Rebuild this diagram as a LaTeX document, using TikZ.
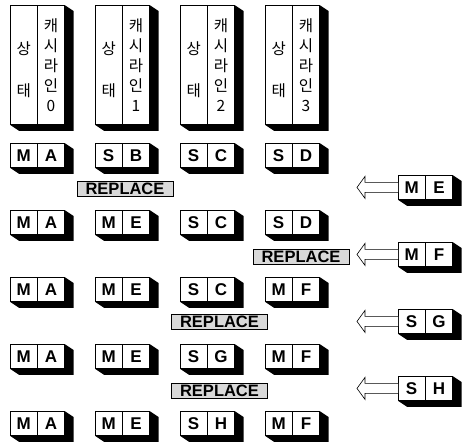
\documentclass[tikz,border=0pt]{standalone}
\usepackage{fontspec}
\setmainfont{Liberation Sans}
\newfontfamily\kor{Noto Sans CJK KR}
% two cells side by side, with a solid extruded edge below right
\newcommand\pairbox[6]{%
  \node[#6] (#1l) at (#2,#3) {#4};
  \node[#6] (#1r) at (#1l.north east) {#5};
  \fill (#1r.north east) -- ([shift={(9,6)}]#1r.north east) -- ([shift={(9,6)}]#1r.south east)
    -- ([shift={(9,6)}]#1l.south west) -- (#1l.south west) -- (#1r.south east) -- cycle;
}
\begin{document}
\begin{tikzpicture}[x=1pt,y=-1pt,line width=0.8pt,
  cell/.style={draw,fill=white,minimum width=26.5pt,minimum height=24pt,inner sep=0pt,
    anchor=north west,font=\fontsize{17}{17}\selectfont\bfseries},
  tall/.style={cell,minimum height=119pt,align=center,font=\kor\fontsize{15.5}{20}\selectfont},
  replace/.style={draw,fill=gray!30,line width=0.6pt,minimum width=96pt,minimum height=15pt,
    inner sep=0pt,font=\fontsize{16.5}{16}\selectfont\bfseries},
  hollow/.style={draw,fill=white,line width=0.6pt}]
\useasboundingbox (0,0) rectangle (463,442);
\foreach \i in {0,...,3}
  \pairbox{h\i}{10+85*\i}{5}{\\[2pt]상\\[22pt]태}{캐\\시\\라\\인\\\i}{tall};
\foreach \a/\b/\c/\d/\e/\f/\g/\h [count=\rw from 0] in
  {M/A/S/B/S/C/S/D, M/A/M/E/S/C/S/D, M/A/M/E/S/C/M/F, M/A/M/E/S/G/M/F, M/A/M/E/S/H/M/F}{
  \pairbox{c\rw a}{10}{143+67*\rw}{\a}{\b}{cell}
  \pairbox{c\rw b}{95}{143+67*\rw}{\c}{\d}{cell}
  \pairbox{c\rw c}{180}{143+67*\rw}{\e}{\f}{cell}
  \pairbox{c\rw d}{265}{143+67*\rw}{\g}{\h}{cell}
}
\foreach \a/\b [count=\rw from 0] in {M/E,M/F,S/G,S/H}{
  \pairbox{f\rw}{398}{175+67*\rw}{\a}{\b}{cell}
  \coordinate (t\rw) at ([shift={(-41,0)}]f\rw l.west);
  \draw[hollow] ([shift={(0,-5)}]f\rw l.west) -- ++(-33,0) -- ++(0,-6) -- (t\rw)
    -- ++(8,11) -- ++(0,-6) -- ++(33,0);
}
\node[replace] (rep0) at (125,188.5) {REPLACE};
\node[replace] (rep1) at (301,256.5) {REPLACE};
\node[replace] (rep2) at (219.5,322) {REPLACE};
\node[replace] (rep3) at (219.5,390.5) {REPLACE};
\end{tikzpicture}
\end{document}
